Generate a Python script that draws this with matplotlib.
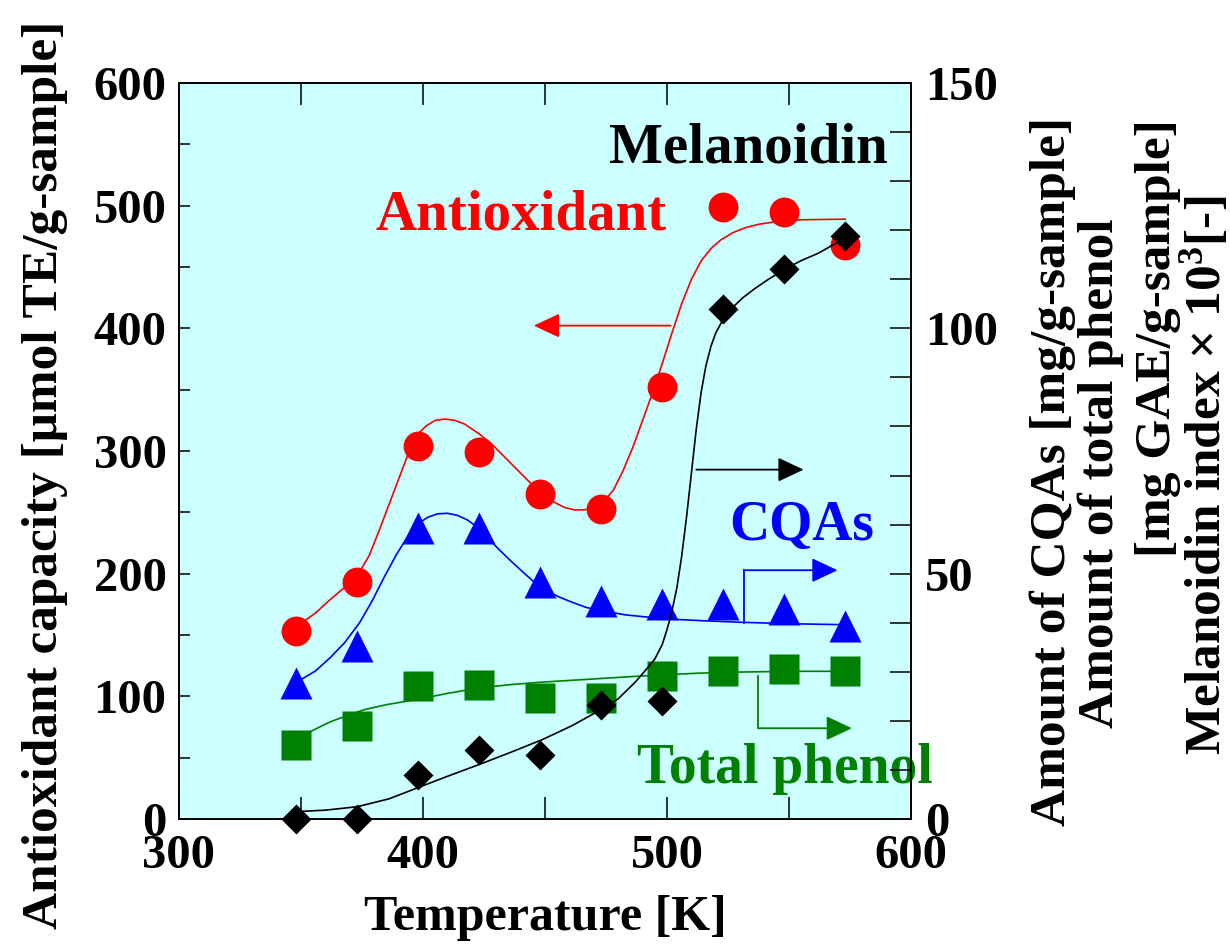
import matplotlib
matplotlib.use("Agg")
import matplotlib.pyplot as plt
from matplotlib.ticker import MultipleLocator, FixedLocator

plt.rcParams['font.family'] = ['Liberation Serif', 'DejaVu Serif']
plt.rcParams['font.weight'] = 'bold'
plt.rcParams['axes.labelweight'] = 'bold'
plt.rcParams['mathtext.fontset'] = 'custom'
plt.rcParams['mathtext.rm'] = 'Liberation Serif:bold'
plt.rcParams['mathtext.it'] = 'Liberation Serif:bold:italic'
plt.rcParams['mathtext.bf'] = 'Liberation Serif:bold'

# Measured data
temperature = [348, 373, 398, 423, 448, 473, 498, 523, 548, 573]          # K
antioxidant = [153, 193, 304, 299, 265, 253, 352, 499, 495, 468]          # umol TE/g
cqas = [27.7, 35.3, 59.4, 59.4, 48.2, 44.4, 43.9, 43.9, 42.9, 39.3]      # mg/g
total_phenol = [15.1, 19.0, 27.2, 27.4, 24.7, 24.7, 29.2, 30.1, 30.5, 30.1]  # mg GAE/g
melanoidin = [0.0, 0.1, 9.0, 14.1, 13.1, 23.2, 24.0, 103.9, 112.0, 118.9]  # index x 1e3

# Fitted curves
antioxidant_fit_T = [349, 356, 362, 368, 373, 378, 382, 386, 390, 394, 397, 401, 405, 409,
                     413, 417, 423, 428, 433, 438, 443, 448, 453, 458, 462, 466, 470, 474,
                     478, 482, 486, 490, 494, 498, 502, 506, 510, 514, 518, 522, 527, 532,
                     538, 545, 555, 573]
antioxidant_fit = [158, 168, 179, 189, 198, 215, 235, 256, 277, 298, 312, 320, 325, 326,
                   325, 322, 314, 306, 296, 286, 276, 266, 259, 254, 252, 252, 254, 259,
                   268, 284, 303, 325, 347, 371, 396, 420, 440, 455, 465, 472, 478, 482,
                   485, 487, 488.5, 489]

cqas_fit_T = [350, 356, 362, 368, 374, 379, 384, 389, 394, 398, 402, 406, 410, 414, 418,
              422, 426, 431, 436, 441, 446, 451, 456, 461, 467, 475, 483, 493, 503, 515,
              530, 550, 573]
cqas_fit = [28.4, 30.2, 32.9, 36.0, 40.0, 44.3, 49.2, 53.8, 57.8, 60.2, 61.5, 62.2, 62.3,
            61.9, 61.0, 59.6, 57.6, 55.0, 52.6, 50.3, 48.1, 46.4, 45.2, 44.2, 43.1, 42.3,
            41.6, 41.1, 40.7, 40.4, 40.1, 39.8, 39.6]

phenol_fit_T = [348, 355, 362, 369, 376, 385, 398, 410, 423, 436, 449, 462, 475, 488,
                500, 512, 524, 537, 550, 573]
phenol_fit = [16.2, 18.1, 19.8, 21.1, 22.3, 23.3, 24.4, 25.6, 26.7, 27.4, 27.9, 28.3,
              28.7, 29.1, 29.4, 29.7, 29.9, 30.0, 30.1, 30.1]

melanoidin_fit_T = [348, 360, 373, 386, 398, 410, 423, 436, 449, 461, 473, 480, 487,
                    491, 495, 498, 500, 502, 504, 506, 508, 510, 512, 514, 516, 518,
                    520, 523, 527, 531, 536, 541, 548, 555, 562, 568, 573]
melanoidin_fit = [1.5, 1.8, 2.5, 4.1, 6.4, 8.7, 11.1, 13.6, 16.2, 19.0, 22.3, 24.5,
                  27.9, 30.2, 32.6, 35.5, 38.6, 42.3, 47.0, 53.5, 61.5, 70.5, 79.5,
                  87.0, 92.5, 96.3, 99.1, 101.8, 104.3, 106.2, 108.1, 109.8, 112.0,
                  113.8, 115.3, 117.0, 118.2]

RED, BLUE, GREEN, BLACK = '#FF0000', '#0000FF', '#008000', '#000000'

fig = plt.figure(figsize=(12.3, 9.52), dpi=100)
ax = fig.add_axes([179 / 1230, 1 - 819 / 952, 732 / 1230, 736 / 952])
ax.set_facecolor('#CCFFFF')
ax2 = ax.twinx()
ax2.patch.set_visible(False)

# Left axis: antioxidant capacity
ax.plot(antioxidant_fit_T, antioxidant_fit, color=RED, lw=1.2, zorder=2)
ax.plot(temperature, antioxidant, 'o', color=RED, ms=21.5, mec='none', zorder=3)

# Right axis: CQAs, total phenol, melanoidin
ax2.plot(cqas_fit_T, cqas_fit, color=BLUE, lw=1.2, zorder=2)
ax2.plot(temperature, cqas, '^', color=BLUE, ms=23.5, mec='none', zorder=3)
ax2.plot(phenol_fit_T, phenol_fit, color=GREEN, lw=1.2, zorder=2)
ax2.plot(temperature, total_phenol, 's', color=GREEN, ms=21.5, mec='none', zorder=3)
ax2.plot(melanoidin_fit_T, melanoidin_fit, color=BLACK, lw=1.2, zorder=4)
ax2.plot(temperature, melanoidin, 'D', color=BLACK, ms=15.3, mec='none', zorder=5,
         clip_on=False)

ax.set_xlim(300, 600)
ax.set_ylim(0, 600)
ax2.set_ylim(0, 150)

ax.xaxis.set_major_locator(MultipleLocator(100))
ax.xaxis.set_minor_locator(FixedLocator([350, 450, 550]))
ax.yaxis.set_major_locator(MultipleLocator(100))
ax.yaxis.set_minor_locator(MultipleLocator(50))
ax2.yaxis.set_major_locator(MultipleLocator(50))
ax2.yaxis.set_minor_locator(MultipleLocator(10))

ax.tick_params(axis='x', which='both', direction='in', length=16, width=1.1,
               top=True, labelsize=35, pad=11)
ax.tick_params(axis='y', which='both', direction='in', length=8, width=1.1,
               labelsize=35, pad=9)
ax2.tick_params(axis='y', which='both', direction='in', length=15, width=1.1,
                labelsize=35, pad=10)
for a in (ax, ax2):
    for s in a.spines.values():
        s.set_linewidth(1.3)

ax.set_xlabel('Temperature [K]', fontsize=36, fontweight='bold', labelpad=12)
ax.set_ylabel('Antioxidant capacity [\u03bcmol TE/g-sample]', fontsize=37,
              fontweight='bold')
ax.yaxis.set_label_coords(-0.152, 0.467)

# Right-hand axis title, four lines
right_lines = [
    ('Amount of CQAs [mg/g-sample]', 1065, 471),
    ('Amount of total phenol', 1113, 473),
    ('[mg GAE/g-sample]', 1170, 338),
    ('Melanoidin index \u00d7 10$^{3}$[-]', 1220, 475),
]
for txt, bx, cy in right_lines:
    fig.text(bx / 1230, 1 - cy / 952, txt, rotation=90, rotation_mode='anchor',
             ha='center', va='baseline', fontsize=37, fontweight='bold')

# Series names
ax.text(533.2, 534.8, 'Melanoidin', color=BLACK, fontsize=41, ha='center', va='baseline')
ax.text(440.4, 480.2, 'Antioxidant', color=RED, fontsize=41, ha='center', va='baseline')
ax.text(555.1, 227.4, 'CQAs', color=BLUE, fontsize=40, ha='center', va='baseline')
ax.text(548.2, 29.3, 'Total phenol', color=GREEN, fontsize=40, ha='center', va='baseline')

# Axis-pointer arrows
head = dict(arrowstyle='-|>,head_length=16,head_width=7.5', mutation_scale=1,
            shrinkA=0, shrinkB=0, lw=1.3)
ax.annotate('', xy=(445.4, 402.2), xytext=(501.5, 402.2),
            arrowprops=dict(color=RED, **head))
ax2.annotate('', xy=(556.0, 71.2), xytext=(512.0, 71.2),
             arrowprops=dict(color=BLACK, **head))
ax2.plot([531.6, 531.6], [40.0, 50.7], color=BLUE, lw=1.3)
ax2.annotate('', xy=(569.9, 50.7), xytext=(531.6, 50.7),
             arrowprops=dict(color=BLUE, **head))
ax2.plot([537.4, 537.4], [29.2, 18.5], color=GREEN, lw=1.3)
ax2.annotate('', xy=(575.8, 18.5), xytext=(537.4, 18.5),
             arrowprops=dict(color=GREEN, **head))

fig.savefig('out.png', dpi=100)
